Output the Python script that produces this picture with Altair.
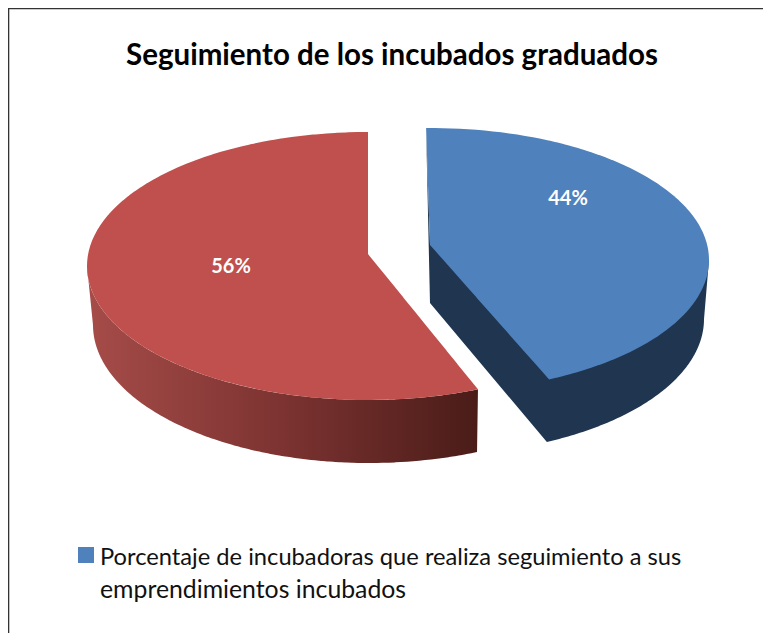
import math
import altair as alt
import pandas as pd

# ---- data ----
titulo = "Seguimiento de los incubados graduados"
categorias = ["Porcentaje de incubadoras que realiza seguimiento a sus emprendimientos incubados", "Otros"]
valores = [43.6, 56.4]
etiquetas = ["44%", "56%"]
leyenda = ["Porcentaje de incubadoras que realiza seguimiento a sus", "emprendimientos incubados"]

AZUL, AZUL_OSC, ROJO = "#4f81bd", "#1f3550", "#c0504d"
W, H = 755, 625
xs = alt.Scale(domain=[8, 8 + W], range=[0, W], nice=False, zero=False)
ys = alt.Scale(domain=[8, 8 + H], range=[0, H], nice=False, zero=False)


def ell(cx, cy, a, b, deg, sign=1):
    t = math.radians(deg)
    return (cx + sign * a * math.sin(t), cy - b * math.cos(t))


def arc(cx, cy, a, b, d0, d1, sign=1, n=90):
    return [ell(cx, cy, a, b, d0 + (d1 - d0) * i / n, sign) for i in range(n + 1)]


def slabs(poly):
    """Turn an x-monotone polygon into x / y / y2 rows for an area mark."""
    e = 0.01
    lo, hi = min(p[0] for p in poly), max(p[0] for p in poly)
    grid = set()
    for p in poly:
        grid.update([p[0] - e, p[0] + e])
    rows = []
    for x in sorted(g for g in grid if lo <= g <= hi):
        cross = []
        for (x0, y0), (x1, y1) in zip(poly, poly[1:] + poly[:1]):
            if (x0 <= x <= x1 or x1 <= x <= x0) and x0 != x1:
                cross.append(y0 + (y1 - y0) * (x - x0) / (x1 - x0))
        if cross:
            rows.append({"x": x, "y": min(cross), "y2": max(cross)})
    return pd.DataFrame(rows)


def area(poly, color):
    return alt.Chart(slabs(poly)).mark_area(color=color, interpolate="linear").encode(
        x=alt.X("x:Q", scale=xs, axis=None),
        y=alt.Y("y:Q", scale=ys, axis=None),
        y2="y2:Q",
    )


# red wedge: sweeps counter-clockwise from the top
r_span = valores[1] * 3.6
r_top = [(368, 254)] + arc(368, 266, 281, 134, 0, r_span, -1)
r_side = arc(368, 266, 281, 134, 90, r_span, -1) + arc(369, 325, 276, 138, r_span, 90, -1)
gradiente = alt.Gradient(
    gradient="linear", x1=0, x2=1, y1=0, y2=0,
    stops=[alt.GradientStop(offset=0, color="#a64c49"),
           alt.GradientStop(offset=0.5, color="#7c3331"),
           alt.GradientStop(offset=1, color="#4a1c18")],
)

# blue wedge: sweeps clockwise from the top, pulled out to the right
b0 = -0.8
b_end = b0 + valores[0] * 3.6 * 0.991
apex = (430, 245)
b_top = [apex] + arc(430, 260, 279, 132, b0, b_end)
b_side = [apex, ell(430, 260, 279, 132, 90)] + arc(430, 319, 274, 136, 90, b_end) + [(430, 303)]
b_sliver = [ell(430, 260, 279, 132, b0), apex, (430, 303)]

marco = pd.DataFrame({"x": [8.6], "y": [8], "y2": [8 + H]})
marco_h = pd.DataFrame({"x": [8], "x2": [8 + W], "y": [8.6]})
frame = [
    alt.Chart(marco).mark_rule(color="#333333", strokeWidth=1.4).encode(
        x=alt.X("x:Q", scale=xs, axis=None), y=alt.Y("y:Q", scale=ys, axis=None), y2="y2:Q"),
    alt.Chart(marco_h).mark_rule(color="#333333", strokeWidth=1.4).encode(
        x=alt.X("x:Q", scale=xs, axis=None), x2="x2:Q", y=alt.Y("y:Q", scale=ys, axis=None)),
]

val_txt = pd.DataFrame({"x": [568, 231], "y": [199, 266.5], "t": etiquetas})
valor_labels = alt.Chart(val_txt).mark_text(
    font="Lato", fontWeight="bold", fontSize=20, color="white", align="center", baseline="middle"
).encode(x=alt.X("x:Q", scale=xs, axis=None), y=alt.Y("y:Q", scale=ys, axis=None), text="t:N")


def linea(i, y, size):
    d = pd.DataFrame({"x": [100], "y": [y], "t": [leyenda[i]]})
    return alt.Chart(d).mark_text(
        font="Lato", fontSize=size, color="#111111", align="left", baseline="middle"
    ).encode(x=alt.X("x:Q", scale=xs, axis=None), y=alt.Y("y:Q", scale=ys, axis=None), text="t:N")


swatch = alt.Chart(pd.DataFrame({"x": [86], "y": [555], "c": [categorias[0]]})).mark_square(
    size=256, color=AZUL, opacity=1, filled=True
).encode(x=alt.X("x:Q", scale=xs, axis=None), y=alt.Y("y:Q", scale=ys, axis=None))

chart = alt.layer(
    *frame,
    area(r_side, gradiente),
    area(r_top, ROJO),
    area(b_side, AZUL_OSC),
    area(b_sliver, AZUL_OSC),
    area(b_top, AZUL),
    valor_labels,
    swatch,
    linea(0, 558, 23.7),
    linea(1, 591, 24.8),
).properties(
    width=W, height=H, padding=0, autosize=alt.AutoSizeParams(type="none"), background="white",
    title=alt.TitleParams(
        titulo, font="Lato", fontWeight="bold", fontSize=29.5, color="black",
        anchor="middle", frame="group", offset=-87, dx=6.5, baseline="alphabetic",
    ),
).configure_view(stroke=None)

chart.save("out.html", embed_options={"renderer": "svg", "actions": False})
